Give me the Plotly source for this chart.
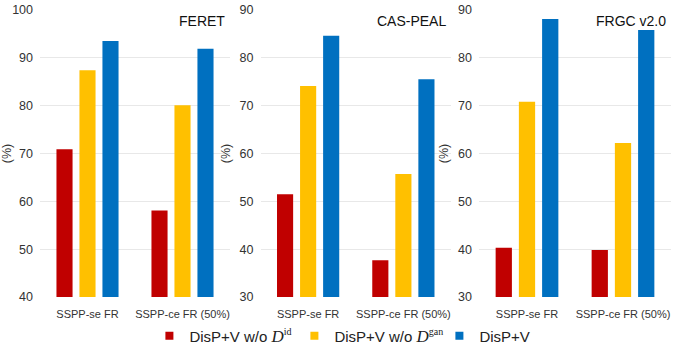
import plotly.graph_objects as go

categories = ["SSPP-se FR", "SSPP-ce FR (50%)"]
datasets = ["FERET", "CAS-PEAL", "FRGC v2.0"]

# accuracy (%) per dataset, per method
no_id = {"FERET": [70.9, 58.1], "CAS-PEAL": [51.5, 37.7], "FRGC v2.0": [40.3, 39.8]}
no_gan = {"FERET": [87.4, 80.1], "CAS-PEAL": [74.1, 55.7], "FRGC v2.0": [70.8, 62.2]}
full = {"FERET": [93.5, 91.9], "CAS-PEAL": [84.6, 75.5], "FRGC v2.0": [88.1, 85.8]}

y_ranges = {"FERET": [40, 100], "CAS-PEAL": [30, 90], "FRGC v2.0": [30, 90]}

W, H = 673, 347
x_domains_px = [(40, 230), (260.5, 451), (479, 671)]
y_top_px, y_bot_px = 10, 297

serif = "font-family:'Liberation Serif','DejaVu Serif',serif;font-style:italic;font-size:17px"
sup = "font-family:'Liberation Serif',serif;font-size:10px"
names = [
    f"DisP+V w/o <span style=\"{serif}\">D</span><sup><span style=\"{sup}\">id</span></sup>",
    f"DisP+V w/o <span style=\"{serif}\">D</span><sup><span style=\"{sup}\">gan</span></sup>",
    "DisP+V",
]
colors = ["#C00000", "#FFC000", "#0070C0"]
series = [no_id, no_gan, full]

fig = go.Figure()
for i, ds in enumerate(datasets):
    xa = "x" if i == 0 else f"x{i+1}"
    ya = "y" if i == 0 else f"y{i+1}"
    for j, s in enumerate(series):
        fig.add_trace(go.Bar(
            x=categories, y=s[ds], name=names[j], marker_color=colors[j],
            marker_line_width=0, xaxis=xa, yaxis=ya, showlegend=False,
        ))

# small square legend keys
for j in range(3):
    fig.add_trace(go.Scatter(
        x=[None], y=[None], mode="markers", name=names[j],
        marker=dict(symbol="square", size=8, color=colors[j]),
        xaxis="x", yaxis="y", showlegend=True,
    ))

font_main = "Liberation Sans, Arial, sans-serif"
layout = dict(
    width=W, height=H, margin=dict(l=0, r=0, t=0, b=0, autoexpand=False),
    paper_bgcolor="white", plot_bgcolor="white",
    barmode="group", bargap=0.274, bargroupgap=0.30,
    font=dict(family=font_main, color="#404040", size=12),
    legend=dict(orientation="h", x=0.222, xanchor="left", y=0.032, yanchor="middle",
                font=dict(size=15, color="#222"), itemwidth=30, entrywidth=100,
                bgcolor="rgba(0,0,0,0)",
                tracegroupgap=0, traceorder="normal"),
)
annotations = []
for i, ds in enumerate(datasets):
    k = "" if i == 0 else str(i + 1)
    x0, x1 = x_domains_px[i]
    layout[f"xaxis{k}"] = dict(
        domain=[x0 / W, x1 / W], anchor=f"y{k}", showgrid=False, zeroline=False,
        showline=False, ticks="", tickfont=dict(size=11, color="#333"),
        ticklabelstandoff=9, automargin=False,
    )
    layout[f"yaxis{k}"] = dict(
        domain=[(H - y_bot_px) / H, (H - y_top_px) / H], anchor=f"x{k}",
        range=y_ranges[ds], dtick=10, showgrid=True, gridcolor="#E8E8E8",
        gridwidth=1, zeroline=False, showline=False, ticks="",
        tickfont=dict(size=12.5, color="#333"), ticklabelstandoff=6,
        automargin=False,
        title=dict(text="(%)", font=dict(size=12.5, color="#333"), standoff=6),
    )
    annotations.append(dict(
        text=ds, x=x1 / W - 0.005, y=(H - 21) / H, xref="paper", yref="paper",
        xanchor="right", yanchor="middle", showarrow=False,
        font=dict(size=14, color="#111"),
    ))
layout["annotations"] = annotations
fig.update_layout(**layout)

fig.write_html("out.html")
